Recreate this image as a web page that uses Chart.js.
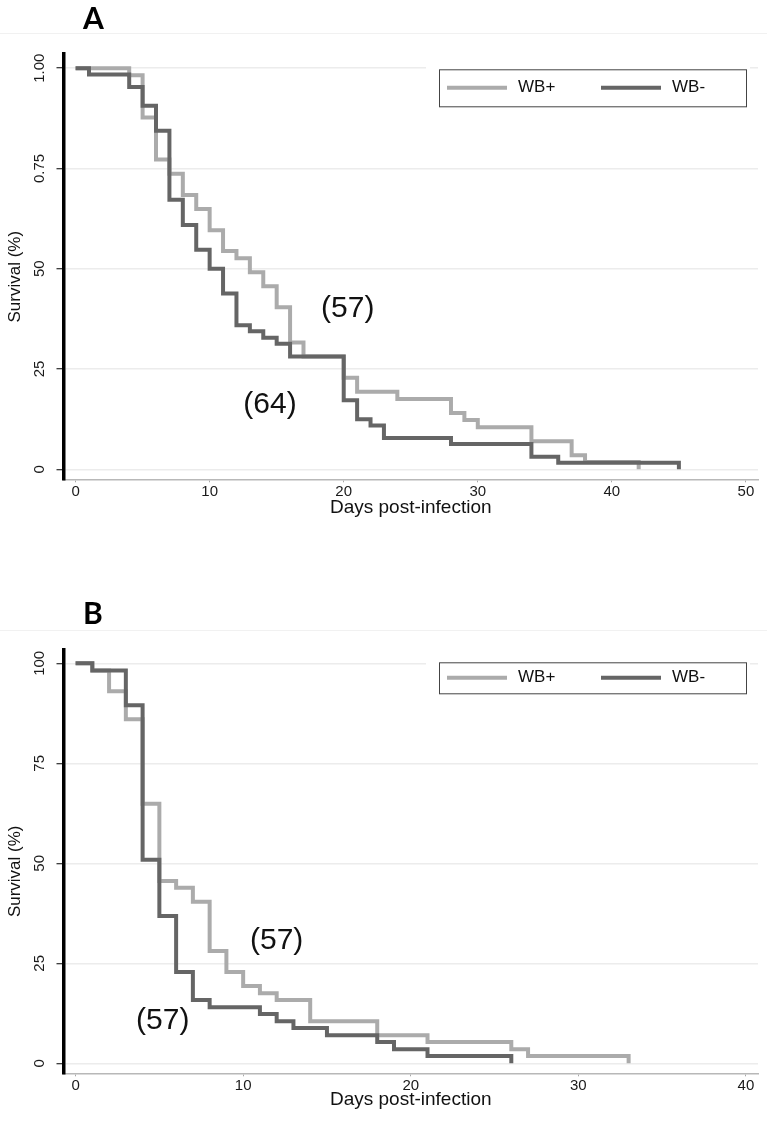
<!DOCTYPE html>
<html>
<head>
<meta charset="utf-8">
<script src="https://cdn.jsdelivr.net/npm/chart.js@4.4.1/dist/chart.umd.min.js"></script>
<style>
  body { margin: 0; background: #fff; width: 767px; height: 1141px; position: relative; overflow: hidden; }
  .panel { position: absolute; left: 0; width: 767px; }
  .letter { position: absolute; left: 83px; font: bold 30px Lato, "Open Sans", sans-serif; line-height: 30px; color: #000; }
  .rule { position: absolute; left: 0; width: 767px; height: 1px; background: #f1f1f1; }
</style>
</head>
<body>
<div class="rule" style="top:33px"></div>
<div class="rule" style="top:630px"></div>
<div class="panel" style="top:0;height:570px"><canvas id="chartA" width="767" height="570"></canvas></div>
<div class="panel" style="top:570px;height:571px"><canvas id="chartB" width="767" height="571"></canvas></div>
<div class="letter" style="top:2px">A</div>
<div class="letter" style="top:597px">B</div>
<script>
// series names
var seriesLabels = ['WB+', 'WB-'];
var seriesColors = ['#ababab', '#656565'];

// panel A: days of events and survival (%) after each event
var aPlusDays  = [0, 4, 5, 6, 7, 8, 9, 10, 11, 12, 13, 14, 15, 16, 17, 20, 21, 24, 28, 29, 30, 34, 37, 38, 42];
var aPlusSurv  = [100, 98.2, 87.7, 77.2, 73.7, 68.4, 64.9, 59.6, 54.4, 52.6, 49.1, 45.6, 40.4, 31.6, 28.1, 22.8, 19.3, 17.5, 14.0, 12.3, 10.5, 7.0, 3.5, 1.8, 0];
var aMinusDays = [0, 1, 4, 5, 6, 7, 8, 9, 10, 11, 12, 13, 14, 15, 16, 20, 21, 22, 23, 28, 34, 36, 45];
var aMinusSurv = [100, 98.4, 95.3, 90.6, 84.4, 67.2, 60.9, 54.7, 50.0, 43.8, 35.9, 34.4, 32.8, 31.3, 28.1, 17.2, 12.5, 10.9, 7.8, 6.3, 3.1, 1.6, 0];

// panel B
var bPlusDays  = [0, 1, 2, 3, 4, 5, 6, 7, 8, 9, 10, 11, 12, 14, 18, 21, 26, 27, 33];
var bPlusSurv  = [100, 98.2, 93.0, 86.0, 64.9, 45.6, 43.9, 40.4, 28.1, 22.8, 19.3, 17.5, 15.8, 10.5, 7.0, 5.3, 3.5, 1.8, 0];
var bMinusDays = [0, 1, 3, 4, 5, 6, 7, 8, 11, 12, 13, 15, 18, 19, 21, 26];
var bMinusSurv = [100, 98.2, 89.5, 50.9, 36.8, 22.8, 15.8, 14.0, 12.3, 10.5, 8.8, 7.0, 5.3, 3.5, 1.8, 0];

// ticks
var aXTicks = [0, 10, 20, 30, 40, 50];
var bXTicks = [0, 10, 20, 30, 40];
var yTicks = [0, 25, 50, 75, 100];
var aYTickLabels = ['0', '25', '50', '0.75', '1.00'];
var bYTickLabels = ['0', '25', '50', '75', '100'];

// group sizes written on the plot
var aNotes = [{ text: '(57)', x: 20.3, y: 39.9 }, { text: '(64)', x: 14.5, y: 16.1 }];
var bNotes = [{ text: '(57)', x: 12.0, y: 30.6 }, { text: '(57)', x: 5.2, y: 10.6 }];

Chart.defaults.font.family = '"Liberation Sans", Arial, sans-serif';
Chart.defaults.color = '#111';

function pts(days, surv) {
  return days.map(function (d, i) { return { x: d, y: surv[i] }; });
}

var notesPlugin = {
  id: 'notes',
  afterDatasetsDraw: function (chart, args, opts) {
    var ctx = chart.ctx, x = chart.scales.x, y = chart.scales.y;
    ctx.save();
    ctx.font = '30px "Liberation Sans", Arial, sans-serif';
    ctx.fillStyle = '#111';
    ctx.textAlign = 'center';
    ctx.textBaseline = 'middle';
    opts.items.forEach(function (n) {
      ctx.fillText(n.text, x.getPixelForValue(n.x), y.getPixelForValue(n.y));
    });
    // y axis title, a little below the middle of the axis as in the original
    ctx.font = '17px "Liberation Sans", Arial, sans-serif';
    ctx.translate(15, y.getPixelForValue(opts.yTitleAt));
    ctx.rotate(-Math.PI / 2);
    ctx.fillText(opts.yTitle, 0, 0);
    ctx.restore();
  }
};

// boxed legend inside the plot, like Stata
var boxLegend = {
  id: 'boxLegend',
  afterDraw: function (chart, args, opts) {
    var ctx = chart.ctx, area = chart.chartArea;
    var top = area.top + opts.dy, h = opts.h, mid = top + h / 2;
    ctx.save();
    ctx.fillStyle = '#fff';
    ctx.fillRect(opts.left - 13, top - 5, opts.right - opts.left + 17, h + 10);
    ctx.strokeStyle = '#444';
    ctx.lineWidth = 1;
    ctx.strokeRect(opts.left + 0.5, top + 0.5, opts.right - opts.left, h);
    ctx.font = '17px "Liberation Sans", Arial, sans-serif';
    ctx.textBaseline = 'middle';
    ctx.fillStyle = '#111';
    chart.data.datasets.forEach(function (ds, i) {
      var it = opts.items[i];
      ctx.strokeStyle = ds.borderColor;
      ctx.lineWidth = 4;
      ctx.beginPath();
      ctx.moveTo(it.lineX, mid);
      ctx.lineTo(it.lineX + opts.lineLen, mid);
      ctx.stroke();
      ctx.fillText(ds.label, it.textX, mid);
    });
    ctx.restore();
  }
};

function makePanel(id, p) {
  return new Chart(document.getElementById(id), {
    type: 'line',
    data: {
      datasets: [
        { label: seriesLabels[0], data: pts(p.plusDays, p.plusSurv), borderColor: seriesColors[0], order: 1 },
        { label: seriesLabels[1], data: pts(p.minusDays, p.minusSurv), borderColor: seriesColors[1], order: 0 }
      ]
    },
    options: {
      responsive: false,
      animation: false,
      parsing: false,
      datasets: {
        line: { stepped: true, borderWidth: 4, pointRadius: 0, fill: false, tension: 0, borderJoinStyle: 'miter', borderCapStyle: 'butt' }
      },
      layout: { padding: { left: 0, right: 9, top: p.padTop, bottom: p.padBottom } },
      plugins: {
        legend: { display: false },
        tooltip: { enabled: false },
        notes: { items: p.notes, yTitle: 'Survival (%)', yTitleAt: 48 },
        boxLegend: {
          left: 439, right: 746, dy: p.legDy, h: p.legH, lineLen: 60,
          items: [{ lineX: 447, textX: 518 }, { lineX: 601, textX: 672 }]
        }
      },
      scales: {
        x: {
          type: 'linear',
          min: p.xMin, max: p.xMax,
          afterBuildTicks: function (s) { s.ticks = p.xTicks.map(function (v) { return { value: v }; }); },
          afterFit: function (s) { s.height = p.xAxisH; },
          ticks: { autoSkip: false, maxRotation: 0, padding: 1, font: { size: 15 }, color: '#1a1a1a' },
          grid: { drawOnChartArea: false, drawTicks: true, tickLength: 3, tickColor: '#a8a8a8', tickWidth: 1 },
          border: { color: '#b8b8b8', width: 1.5 },
          title: { display: true, text: 'Days post-infection', font: { size: 19 }, color: '#111', padding: 0 }
        },
        y: {
          type: 'linear',
          min: -2.5, max: p.yMax,
          afterBuildTicks: function (s) { s.ticks = yTicks.map(function (v) { return { value: v }; }); },
          afterFit: function (s) { s.width = 63.5; },
          ticks: {
            callback: function (v, i) { return p.yLabels[i]; },
            minRotation: 90, maxRotation: 90, crossAlign: 'center', padding: p.yPad,
            font: { size: 15 }, color: '#1a1a1a'
          },
          grid: { color: '#ececec', lineWidth: 1.5, tickColor: '#000', tickLength: 7, tickWidth: 1 },
          border: { color: '#000', width: 3.5 },
          title: { display: false }
        }
      }
    },
    plugins: [notesPlugin, boxLegend]
  });
}

makePanel('chartA', {
  plusDays: aPlusDays, plusSurv: aPlusSurv, minusDays: aMinusDays, minusSurv: aMinusSurv,
  xTicks: aXTicks, xMin: -0.9, xMax: 50.9, yMax: 103.7, yLabels: aYTickLabels, yPad: 2.4,
  padTop: 53.3, padBottom: 50.6, xAxisH: 40.1, notes: aNotes, legDy: 16, legH: 37
});

makePanel('chartB', {
  plusDays: bPlusDays, plusSurv: bPlusSurv, minusDays: bMinusDays, minusSurv: bMinusSurv,
  xTicks: bXTicks, xMin: -0.72, xMax: 40.72, yMax: 103.5, yLabels: bYTickLabels, yPad: 4.5,
  padTop: 79.3, padBottom: 29.6, xAxisH: 38.1, notes: bNotes, legDy: 13, legH: 31
});
</script>
</body>
</html>
